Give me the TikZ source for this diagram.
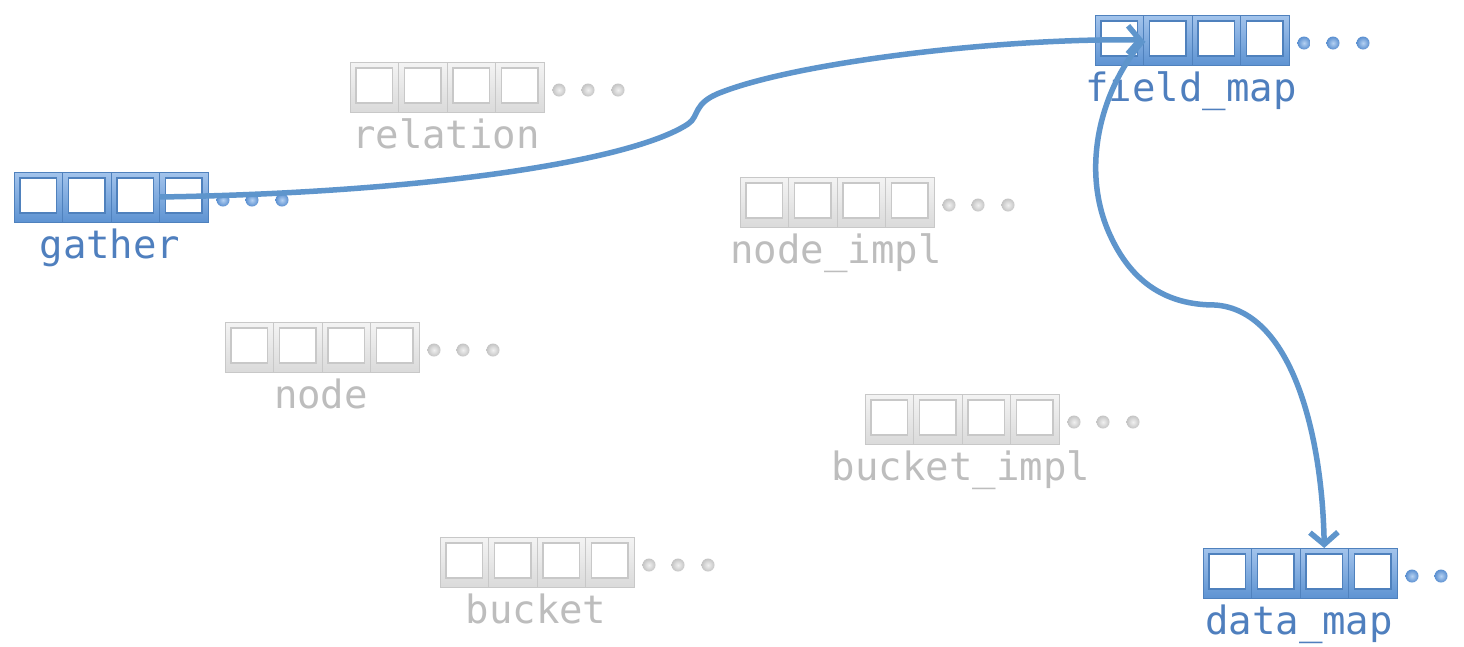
\documentclass[tikz,border=0pt]{standalone}
\usepackage{fontspec}
\setmonofont{DejaVu Sans Mono}
\usetikzlibrary{arrows.meta,shadings}
\definecolor{bfillT}{HTML}{A3C4EC}
\definecolor{bfillB}{HTML}{5E93D2}
\definecolor{bdraw}{HTML}{4F81BD}
\definecolor{btext}{HTML}{4F7FBE}
\definecolor{bline}{HTML}{5E95CC}
\definecolor{bdotI}{HTML}{B5D1F2}
\definecolor{bdotO}{HTML}{5A8FD0}
\definecolor{gfillT}{HTML}{F4F4F4}
\definecolor{gfillB}{HTML}{DADADA}
\definecolor{gdraw}{HTML}{C8C8C8}
\definecolor{gtext}{HTML}{BDBDBD}
\definecolor{gdotI}{HTML}{F0F0F0}
\definecolor{gdotO}{HTML}{C4C4C4}
\tikzset{
  bluecell/.style={draw=bdraw, line width=1pt, top color=bfillT, bottom color=bfillB, minimum width=48.5pt, minimum height=50pt, inner sep=0pt, outer sep=0pt},
  graycell/.style={draw=gdraw, line width=1pt, top color=gfillT, bottom color=gfillB, minimum width=48.5pt, minimum height=50pt, inner sep=0pt, outer sep=0pt},
  blueinner/.style={draw=bdraw, line width=1.4pt, fill=white},
  grayinner/.style={draw=gdraw, line width=1.4pt, fill=white},
  bluedot/.style={circle, inner sep=0pt, minimum size=13pt, inner color=bdotI, outer color=bdotO, draw=none},
  graydot/.style={circle, inner sep=0pt, minimum size=13pt, inner color=gdotI, outer color=gdotO, draw=none},
  bluelabel/.style={text=btext, font=\ttfamily\fontsize{39}{42}\selectfont, anchor=base, inner sep=0pt},
  graylabel/.style={text=gtext, font=\ttfamily\fontsize{39}{42}\selectfont, anchor=base, inner sep=0pt},
  link/.style={draw=bline, line width=5.5pt, -{Straight Barb[length=12pt,width=28pt,line width=5.5pt]}},
}
\newcommand\arrblock[5]{%
  \foreach \i in {1,...,4} {
    \node[#4cell, anchor=north west] (#1-\i) at ({#2+(\i-1)*48.5},#3) {};
    \draw[#4inner] ([shift={(6,6)}]#1-\i.north west) rectangle ([shift={(-6,-9)}]#1-\i.south east);
  }
  \node[#4dot] (#1-d1) at ({#2+194+15},{#3+28}) {};
  \node[#4dot] (#1-d2) at ({#2+194+44},{#3+28}) {};
  \node[#4dot] (#1-d3) at ({#2+194+74},{#3+28}) {};
  \node[#4label] (#1-label) at ({#2+96},{#3+86}) {#5};
}
\begin{document}
\begin{tikzpicture}[x=1pt,y=-1pt]
\useasboundingbox[fill=white] (0,0) rectangle (1464,646);
\arrblock{relation}{350}{62}{gray}{relation}
\arrblock{nodeimpl}{740}{177}{gray}{node\_impl}
\arrblock{node}{225}{322}{gray}{node}
\arrblock{bucketimpl}{865}{394}{gray}{bucket\_impl}
\arrblock{bucket}{440}{537}{gray}{bucket}
\arrblock{gather}{14}{172}{blue}{gather}
\arrblock{fieldmap}{1095}{15}{blue}{field\_map}
\arrblock{datamap}{1203}{548}{blue}{data\_map}
\coordinate (k1) at (688,124);
\coordinate (k2) at (722,92);
\coordinate (k3) at (1110,235);
\coordinate (k4) at (1215,305);
\draw[link] (gather-4.west) .. controls (420,193) and (630,162) .. (k1)
  .. controls (700,116) and (692,103) .. (k2)
  .. controls (800,62) and (1000,38) .. (fieldmap-1.east);
\draw[link] (fieldmap-1.east) .. controls (1100,90) and (1080,170) .. (k3)
  .. controls (1135,290) and (1175,305) .. (k4)
  .. controls (1290,310) and (1322,430) .. (datamap-3.north);
\end{tikzpicture}
\end{document}
